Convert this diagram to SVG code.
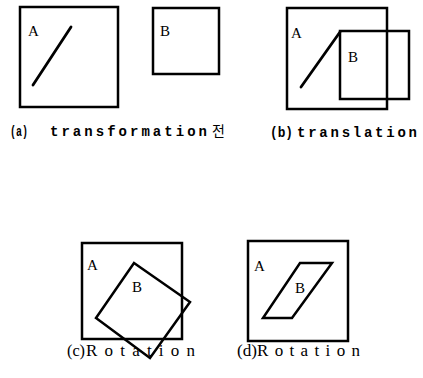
<svg xmlns="http://www.w3.org/2000/svg" width="423" height="378" viewBox="0 0 423 378">
<style>
.box{fill:none;stroke:#000;stroke-width:2.5}
.ln{fill:none;stroke:#000;stroke-width:2.8;stroke-linecap:round}
.lbl{font-family:"Liberation Serif",serif;font-size:15px;fill:#000}
.cap{font-family:"Liberation Mono","Noto Sans CJK KR",monospace;font-size:14px;font-weight:bold;fill:#000}
.rot{font-family:"Liberation Serif",serif;font-size:17px;fill:#000}
</style>
<rect width="423" height="378" fill="#fff"/>
<g id="panel-a">
<g id="a-A"><rect class="box" x="20" y="7" width="98" height="100"/><text class="lbl" x="28" y="36">A</text><line class="ln" x1="33" y1="85" x2="71" y2="27"/></g>
<g id="a-B"><rect class="box" x="153" y="8" width="66" height="66"/><text class="lbl" x="160" y="36">B</text></g>
<text class="cap" y="136"><tspan x="10" textLength="18" lengthAdjust="spacingAndGlyphs">(a)</tspan><tspan x="50" textLength="157" lengthAdjust="spacing">transformation</tspan><tspan x="212" font-family="Noto Sans CJK KR,sans-serif" font-weight="normal" font-size="14">전</tspan></text>
</g>
<g id="panel-b">
<g id="b-A"><rect class="box" x="287" y="8" width="100" height="101"/><text class="lbl" x="291" y="38">A</text><line class="ln" x1="301" y1="87" x2="340" y2="32"/></g>
<g id="b-B"><rect class="box" x="340" y="31" width="69" height="68"/><text class="lbl" x="348" y="62">B</text></g>
<text class="cap" y="137"><tspan x="270" textLength="23" lengthAdjust="spacingAndGlyphs">(b)</tspan><tspan x="297" textLength="120" lengthAdjust="spacing">translation</tspan></text>
</g>
<g id="panel-c">
<g id="c-A"><rect class="box" x="82" y="243" width="100" height="96"/><text class="lbl" x="87" y="270">A</text></g>
<g id="c-B"><polygon class="box" points="134,263 190,302 150,358 96,318"/><text class="lbl" x="132" y="292">B</text></g>
<text class="rot" y="356"><tspan x="67" textLength="18" lengthAdjust="spacingAndGlyphs">(c)</tspan><tspan x="86" textLength="109" lengthAdjust="spacing">Rotation</tspan></text>
</g>
<g id="panel-d">
<g id="d-A"><rect class="box" x="248" y="241" width="100" height="100"/><text class="lbl" x="254" y="271">A</text></g>
<g id="d-B"><polygon class="box" points="300,263 332,263 292,318 263,318"/><text class="lbl" x="295" y="293">B</text></g>
<text class="rot" y="356"><tspan x="237" textLength="20" lengthAdjust="spacingAndGlyphs">(d)</tspan><tspan x="257" textLength="103" lengthAdjust="spacing">Rotation</tspan></text>
</g>
</svg>
